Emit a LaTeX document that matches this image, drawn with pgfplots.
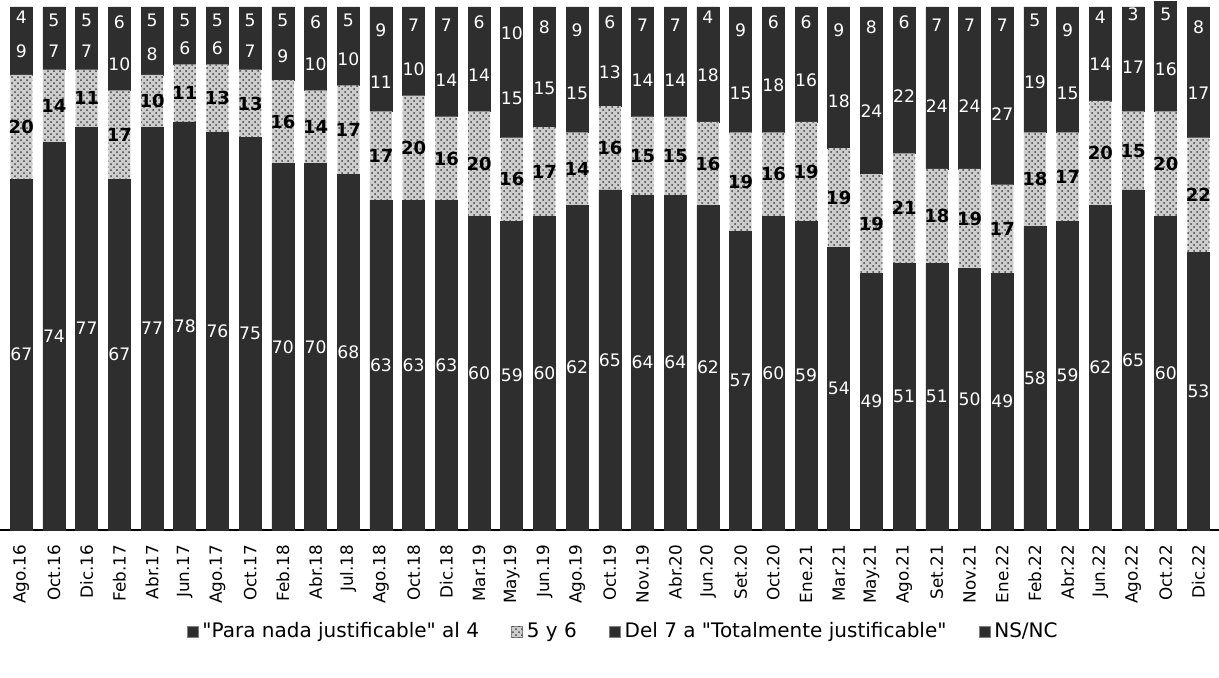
\documentclass[border=0pt]{standalone}
\usepackage{pgfplots}
\pgfplotsset{compat=1.18}
\usepackage{pgfplotstable}
\usetikzlibrary{patterns}
\usepackage{fontspec}
\setmainfont{DejaVu Sans}
\definecolor{dark}{RGB}{46,46,46}
\definecolor{speck}{RGB}{205,205,205}

% a: "Para nada justificable" al 4, b: 5 y 6, c: Del 7 a "Totalmente justificable", d: NS/NC
\pgfplotstableread{
x a b c d
0 67 20 9 4
1 74 14 7 5
2 77 11 7 5
3 67 17 10 6
4 77 10 8 5
5 78 11 6 5
6 76 13 6 5
7 75 13 7 5
8 70 16 9 5
9 70 14 10 6
10 68 17 10 5
11 63 17 11 9
12 63 20 10 7
13 63 16 14 7
14 60 20 14 6
15 59 16 15 10
16 60 17 15 8
17 62 14 15 9
18 65 16 13 6
19 64 15 14 7
20 64 15 14 7
21 62 16 18 4
22 57 19 15 9
23 60 16 18 6
24 59 19 16 6
25 54 19 18 9
26 49 19 24 8
27 51 21 22 6
28 51 18 24 7
29 50 19 24 7
30 49 17 27 7
31 58 18 19 5
32 59 17 15 9
33 62 20 14 4
34 65 15 17 3
35 60 20 16 5
36 53 22 17 8
}\data

\begin{document}
\begin{tikzpicture}
\useasboundingbox (0,0) rectangle (609.5pt,-338.5pt);
\begin{axis}[
    at={(0,0)}, anchor=north west,
    x=16.35pt, y=2.615pt,
    xmin=-0.65, xmax=36.63,
    ymin=0, ymax=101.3,
    ybar stacked,
    bar width=11pt,
    axis x line*=bottom,
    axis y line=none,
    x axis line style={line width=1pt, -},
    clip=false,
    /pgf/number format/assume math mode=true,
    xtick={0,...,36},
    major tick length=0pt,
    xticklabels={Ago.16,Oct.16,Dic.16,Feb.17,Abr.17,Jun.17,Ago.17,Oct.17,Feb.18,Abr.18,Jul.18,Ago.18,Oct.18,Dic.18,Mar.19,May.19,Jun.19,Ago.19,Oct.19,Nov.19,Abr.20,Jun.20,Set.20,Oct.20,Ene.21,Mar.21,May.21,Ago.21,Set.21,Nov.21,Ene.22,Feb.22,Abr.22,Jun.22,Ago.22,Oct.22,Dic.22},
    xticklabel style={rotate=90, anchor=east, font=\fontsize{8.4}{9}\selectfont},
    xticklabel shift=4pt,
    nodes near coords,
    point meta=explicit,
    nodes near coords style={font=\fontsize{8.6}{9}\selectfont},
    legend style={at={(0.512,-0.1925)}, anchor=center, draw=none, fill=none,
        legend columns=4, font=\fontsize{10}{11}\selectfont,
        /tikz/every even column/.append style={column sep=14pt}},
    legend image code/.code={\draw[#1, draw=gray, line width=0.3pt] (0pt,-2.8pt) rectangle (5.6pt,2.8pt);},
]
\addplot[fill=dark, draw=dark, line width=0.3pt,
    every node near coord/.append style={text=white}]
    table[x=x, y=a, meta=a] {\data};
\addlegendentry{\textquotedbl Para nada justificable\textquotedbl{} al 4}
\addplot[fill=speck, draw=none, postaction={pattern=crosshatch dots, pattern color=black!75},
    every node near coord/.append style={text=black, font=\fontsize{9}{10}\selectfont\bfseries}]
    table[x=x, y=b, meta=b] {\data};
\addlegendentry{5 y 6}
\addplot[fill=dark, draw=dark, line width=0.3pt,
    every node near coord/.append style={text=white}]
    table[x=x, y=c, meta=c] {\data};
\addlegendentry{Del 7 a \textquotedbl Totalmente justificable\textquotedbl}
\addplot[fill=dark, draw=dark, line width=0.3pt,
    every node near coord/.append style={text=white}]
    table[x=x, y=d, meta=d] {\data};
\addlegendentry{NS/NC}
\end{axis}
\end{tikzpicture}
\end{document}
